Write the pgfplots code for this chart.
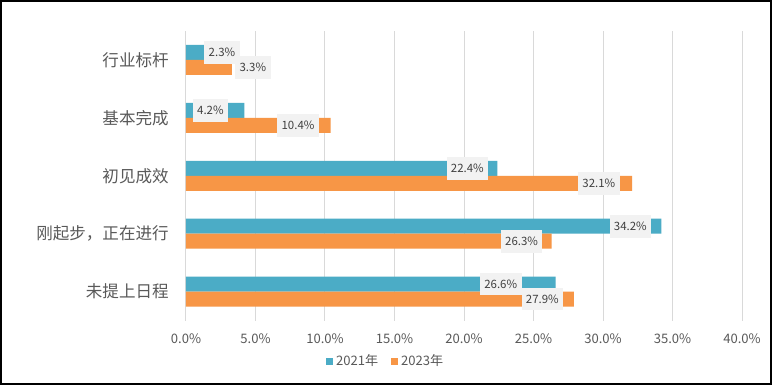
\documentclass[border=0pt]{standalone}
\usepackage{fontspec}
\setmainfont{Noto Sans CJK SC}
\usepackage{pgfplots}
\pgfplotsset{compat=1.18}
\usepackage{pgfplotstable}
\definecolor{cteal}{HTML}{4BACC6}
\definecolor{corange}{HTML}{F79646}
\definecolor{gridgray}{HTML}{D9D9D9}
\definecolor{txtgray}{HTML}{595959}
\definecolor{lblgray}{HTML}{404040}
\definecolor{boxgray}{HTML}{F2F2F2}

% y: category position (4 = top), x: value (%), dx: label offset (pt) from bar end
\pgfplotstableread{
y x dx
4 2.3 3
3 4.2 -25.5
2 22.4 -22.5
1 34.2 -23.25
0 26.6 -41.25
}\dataA
\pgfplotstableread{
y x dx
4 3.3 15.75
3 10.4 -24.4
2 32.1 -25
1 26.3 -22.5
0 27.9 -23.6
}\dataB

\begin{document}
\begin{tikzpicture}
\useasboundingbox (0pt,0pt) rectangle (579pt,288.75pt);
\fill[white] (0pt,0pt) rectangle (579pt,288.75pt);
\draw[line width=1.5pt,black] (0.75pt,0.75pt) rectangle (578.25pt,288pt);
\begin{axis}[
  at={(139.5pt,48.3pt)}, anchor=south west,
  scale only axis, width=417pt, height=217.2pt,
  xbar, bar width=11.25pt,
  xmin=0, xmax=40, ymin=-0.5, ymax=4.5,
  ytick={0,1,2,3,4},
  yticklabels={未提上日程,刚起步，正在进行,初见成效,基本完成,行业标杆},
  xtick={0,5,...,40},
  xticklabel={\pgfmathprintnumber[fixed,fixed zerofill,precision=1]{\tick}\%},
  /pgf/number format/assume math mode=true,
  axis line style={draw=none},
  major tick length=0pt,
  xmajorgrids, grid style={color=gridgray, line width=0.75pt},
  xticklabel style={font=\fontsize{9.8}{11}\selectfont, text=txtgray, yshift=-6pt},
  yticklabel style={font=\fontsize{12.4}{14}\selectfont, text=txtgray, xshift=-9.5pt},
  point meta=x,
  nodes near coords={\pgfmathprintnumber[fixed,fixed zerofill,precision=1]{\pgfplotspointmeta}\%},
  visualization depends on={\thisrow{dx} \as \dx},
  nodes near coords style={anchor=center, xshift=\dx pt, fill=boxgray, text=lblgray,
     font=\fontsize{8.6}{10}\selectfont, inner xsep=3.3pt, inner ysep=0pt, minimum height=17pt},
  legend style={at={(0.36,-0.14)}, anchor=center, draw=none, fill=none,
     font=\fontsize{9.8}{11}\selectfont, text=txtgray, legend columns=2,
     /tikz/every even column/.append style={column sep=8pt}},
  legend image code/.code={\fill[#1] (0pt,-2.6pt) rectangle (5.25pt,2.6pt);},
]
\addplot[fill=cteal, draw=none, bar shift=5.625pt] table[x=x,y=y] {\dataA};
\addplot[fill=corange, draw=none, bar shift=-5.625pt] table[x=x,y=y] {\dataB};
\legend{2021年,2023年}
\end{axis}
\end{tikzpicture}
\end{document}
